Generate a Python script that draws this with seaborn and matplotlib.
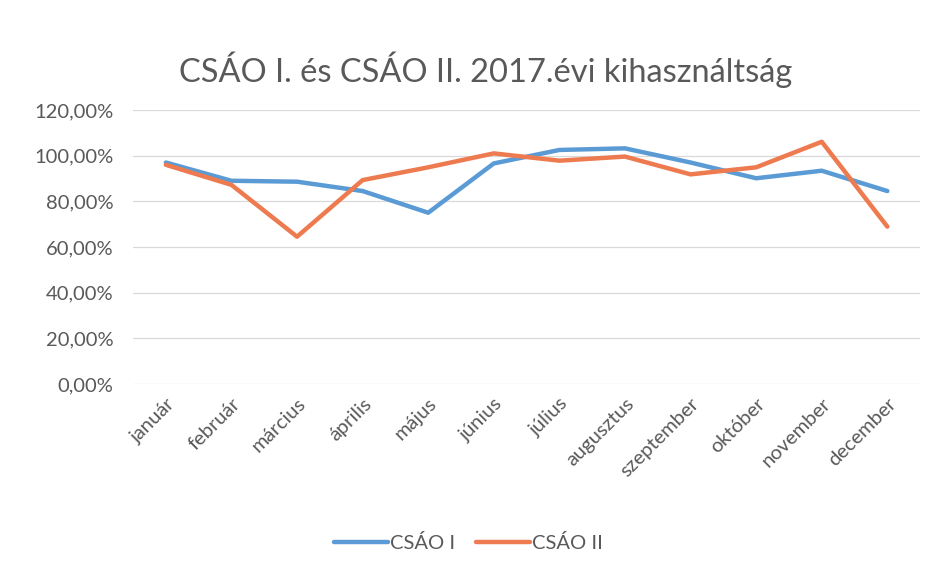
import seaborn as sns
import matplotlib.pyplot as plt
import pandas as pd
from matplotlib.ticker import FuncFormatter, MultipleLocator

# Monthly utilisation values
months = ["január", "február", "március", "április", "május", "június",
          "július", "augusztus", "szeptember", "október", "november", "december"]
csao_1 = [0.97, 0.89, 0.886, 0.845, 0.75, 0.966, 1.025, 1.032, 0.97, 0.901, 0.934, 0.845]
csao_2 = [0.96, 0.872, 0.645, 0.893, 0.949, 1.01, 0.978, 0.996, 0.918, 0.949, 1.061, 0.689]
series_names = ["CSÁO I", "CSÁO II"]

df = pd.DataFrame({
    "hónap": months * 2,
    "érték": csao_1 + csao_2,
    "sorozat": [series_names[0]] * 12 + [series_names[1]] * 12,
})
df["pos"] = list(range(12)) * 2

sns.set_style("white")
plt.rcParams["font.family"] = ["Lato", "DejaVu Sans"]

fig = plt.figure(figsize=(9.37, 5.73), dpi=100)
ax = fig.add_axes([0.142, 0.330, 0.840, 0.478])

sns.lineplot(
    data=df, x="pos", y="érték", hue="sorozat",
    palette=["#5B9BD5", "#EE7B4F"], linewidth=3.2,
    legend=True, ax=ax,
)

ax.set_xlim(-0.5, 11.5)
ax.set_ylim(0, 1.2)
ax.yaxis.set_major_locator(MultipleLocator(0.2))
ax.yaxis.set_major_formatter(
    FuncFormatter(lambda v, _: f"{v * 100:.2f}%".replace(".", ","))
)
ax.set_xticks(range(12))
ax.set_xticklabels(months, rotation=45, ha="right", rotation_mode="anchor")
ax.tick_params(axis="both", length=0, labelsize=14.5, colors="#595959")
ax.tick_params(axis="y", pad=14)
ax.tick_params(axis="x", pad=8)
ax.grid(axis="y", color="#D9D9D9", linewidth=0.9)
ax.set_xlabel("")
ax.set_ylabel("")
sns.despine(ax=ax, left=True, bottom=True, top=True, right=True)

handles, labels = ax.get_legend_handles_labels()
ax.get_legend().remove()
fig.legend(handles, labels, loc="center", bbox_to_anchor=(0.5, 0.052),
           ncol=2, frameon=False, fontsize=14.5, handlelength=2.7,
           columnspacing=1.0, handletextpad=0.1, labelcolor="#595959")

fig.text(0.518, 0.878, "CSÁO I. és CSÁO II. 2017.évi kihasználtság",
         ha="center", va="center", fontsize=23.5, color="#595959")

plt.savefig("out.png", dpi=100)
